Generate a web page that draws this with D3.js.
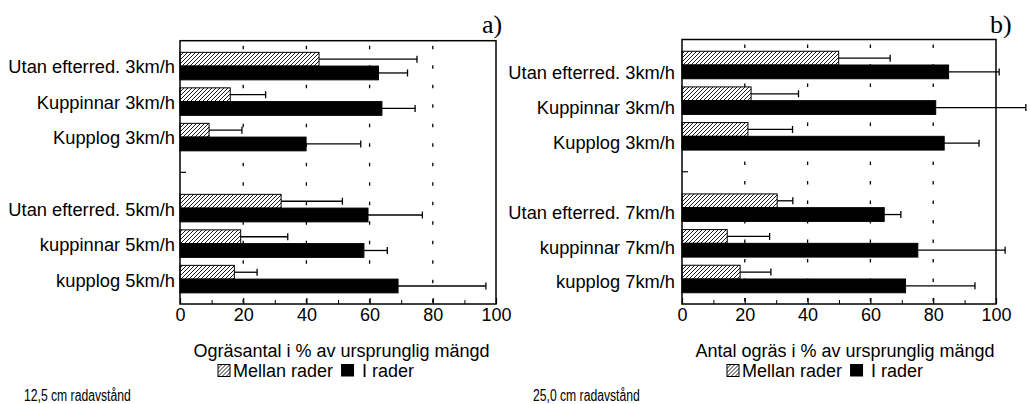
<!DOCTYPE html>
<html>
<head>
<meta charset="utf-8">
<script src="https://cdn.jsdelivr.net/npm/d3@7"></script>
<style>
  body { margin: 0; background: #fff; }
  svg { display: block; }
  text { font-family: "Liberation Sans", Arial, Helvetica, sans-serif; fill: #000; }
</style>
</head>
<body>
<svg id="chart" width="1030" height="404"></svg>
<script>
// Row labels (an empty row separates the two speed groups)
const rowsA = ["Utan efterred. 3km/h", "Kuppinnar 3km/h", "Kupplog 3km/h", "",
               "Utan efterred. 5km/h", "kuppinnar 5km/h", "kupplog 5km/h"];
const rowsB = ["Utan efterred. 3km/h", "Kuppinnar 3km/h", "Kupplog 3km/h", "",
               "Utan efterred. 7km/h", "kuppinnar 7km/h", "kupplog 7km/h"];

// Weed counts, % of original amount, with the length of each error bar
const mellanA    = [44.0, 15.9,  9.2, null, 32.0, 19.2, 17.2];
const mellanErrA = [31.0, 11.2, 10.4, null, 19.4, 14.9,  7.2];
const iRaderA    = [62.8, 63.9, 39.9, null, 59.5, 58.2, 69.0];
const iRaderErrA = [ 9.2, 10.5, 17.3, null, 17.2,  7.4, 27.8];

const mellanB    = [49.9, 22.0, 21.0, null, 30.3, 14.4, 18.5];
const mellanErrB = [16.4, 15.1, 14.2, null,  5.0, 13.5,  9.8];
const iRaderB    = [84.9, 80.8, 83.5, null, 64.4, 75.1, 71.2];
const iRaderErrB = [16.1, 28.7, 11.1, null,  5.3, 27.8, 22.1];

const xTicks     = [0, 20, 40, 60, 80, 100];
const xMinor     = [10, 30, 50, 70, 90];
const gridValues = [20, 40, 60, 80];
const seriesNames = ["Mellan rader", "I rader"];

const titleA = "Ogräsantal i % av ursprunglig mängd";
const titleB = "Antal ogräs i % av ursprunglig mängd";
const noteA = "12,5 cm radavstånd";
const noteB = "25,0 cm radavstånd";
const tagA = "a)";
const tagB = "b)";

const svg = d3.select("#chart");

// Diagonal hatch used for the "Mellan rader" bars
const defs = svg.append("defs");
const pat = defs.append("pattern")
  .attr("id", "hatch")
  .attr("patternUnits", "userSpaceOnUse")
  .attr("width", 4).attr("height", 4);
pat.append("rect").attr("width", 4).attr("height", 4).attr("fill", "#fff");
pat.append("path")
  .attr("d", "M0,4 L4,0 M-1,1 L1,-1 M3,5 L5,3")
  .attr("stroke", "#000").attr("stroke-width", 0.9);

function drawPanel(cfg) {
  const g = svg.append("g");
  const idx = d3.range(cfg.rows.length);

  const x = d3.scaleLinear().domain([0, 100]).range([cfg.left, cfg.right]);
  const y = d3.scalePoint().domain(idx).range([cfg.top, cfg.bottom]).padding(0.708);
  const yLabel = d3.scalePoint().domain(idx).range(cfg.labelRange);
  const sub = d3.scaleBand().domain(seriesNames).range([-13.5, 14]);

  // dotted grid lines
  g.append("g").selectAll("line").data(gridValues).join("line")
    .attr("x1", d => x(d)).attr("x2", d => x(d))
    .attr("y1", cfg.top).attr("y2", cfg.bottom)
    .attr("stroke", "#000").attr("stroke-width", 1.3)
    .attr("stroke-dasharray", "3.5 16").attr("stroke-dashoffset", -5);

  // inward row ticks on the left axis
  g.append("g").selectAll("line").data(idx).join("line")
    .attr("x1", cfg.left).attr("x2", cfg.left + 6)
    .attr("y1", d => y(d)).attr("y2", d => y(d))
    .attr("stroke", "#000").attr("stroke-width", 1.2);

  const series = [
    { name: seriesNames[0], vals: cfg.mellan, errs: cfg.mellanErr, fill: "url(#hatch)" },
    { name: seriesNames[1], vals: cfg.iRader, errs: cfg.iRaderErr, fill: "#000" }
  ];

  series.forEach(s => {
    const rows = idx.filter(i => s.vals[i] != null);
    const bars = g.append("g");
    bars.selectAll("rect").data(rows).join("rect")
      .attr("x", x(0))
      .attr("y", i => y(i) + sub(s.name))
      .attr("width", i => x(s.vals[i]) - x(0))
      .attr("height", sub.bandwidth())
      .attr("fill", s.fill)
      .attr("stroke", "#000").attr("stroke-width", 1);

    const cy = i => y(i) + sub(s.name) + sub.bandwidth() / 2;
    const err = g.append("g").attr("stroke", "#000").attr("stroke-width", 1.3);
    err.selectAll("line.whisker").data(rows).join("line").attr("class", "whisker")
      .attr("x1", i => x(s.vals[i])).attr("x2", i => x(s.vals[i] + s.errs[i]))
      .attr("y1", cy).attr("y2", cy);
    err.selectAll("line.cap").data(rows).join("line").attr("class", "cap")
      .attr("x1", i => x(s.vals[i] + s.errs[i])).attr("x2", i => x(s.vals[i] + s.errs[i]))
      .attr("y1", i => cy(i) - 3.5).attr("y2", i => cy(i) + 3.5);
  });

  // plot frame
  g.append("rect")
    .attr("x", cfg.left).attr("y", cfg.top)
    .attr("width", cfg.right - cfg.left).attr("height", cfg.bottom - cfg.top)
    .attr("fill", "none").attr("stroke", "#000").attr("stroke-width", 1.5);

  // bottom axis: major ticks with labels, minor ticks without
  const axis = g.append("g").attr("transform", `translate(0,${cfg.bottom})`)
    .call(d3.axisBottom(x).tickValues(xTicks).tickSize(-6).tickPadding(4).tickFormat(d3.format("d")));
  axis.select(".domain").remove();
  axis.selectAll("line").attr("stroke-width", 1.2);
  axis.selectAll("text").attr("font-size", 18).attr("dy", "0.71em")
    .style("font-family", '"Liberation Sans", Arial, sans-serif');

  const minor = g.append("g").attr("transform", `translate(0,${cfg.bottom})`)
    .call(d3.axisBottom(x).tickValues(xMinor).tickSize(-4).tickFormat(""));
  minor.select(".domain").remove();

  // row labels
  g.append("g").selectAll("text").data(idx.filter(i => cfg.rows[i] !== "")).join("text")
    .attr("x", cfg.labelX).attr("y", i => yLabel(i)).attr("dy", "0.35em")
    .attr("text-anchor", "end").attr("font-size", 18.3)
    .text(i => cfg.rows[i]);

  // axis title
  g.append("text")
    .attr("x", cfg.titleX).attr("y", 357)
    .attr("text-anchor", "middle").attr("font-size", 18)
    .text(cfg.title);

  // legend
  const lg = g.append("g").attr("transform", `translate(${cfg.legendX},376.5)`);
  lg.append("rect").attr("x", 0).attr("y", -12).attr("width", 12).attr("height", 12)
    .attr("fill", "url(#hatch)").attr("stroke", "#000").attr("stroke-width", 1);
  const t1 = lg.append("text").attr("x", 15).attr("font-size", 18).text(seriesNames[0]);
  const endX = 15 + t1.node().getComputedTextLength() + 8;
  lg.append("rect").attr("x", endX).attr("y", -12.5).attr("width", 13).attr("height", 12.5)
    .attr("fill", "#000");
  lg.append("text").attr("x", endX + 21).attr("font-size", 18).text(seriesNames[1]);

  // footnote (narrow face)
  g.append("text")
    .attr("transform", `translate(${cfg.noteX},401) scale(0.76,1)`)
    .attr("font-size", 16).text(cfg.note);

  // panel tag
  g.append("text").attr("x", cfg.tagX).attr("y", 33)
    .style("font-family", '"Liberation Serif", "Times New Roman", serif')
    .attr("font-size", 26).text(cfg.tag);
}

drawPanel({
  rows: rowsA, mellan: mellanA, mellanErr: mellanErrA, iRader: iRaderA, iRaderErr: iRaderErrA,
  left: 180, right: 496, top: 40.7, bottom: 304,
  labelX: 175, labelRange: [66.5, 280.5],
  titleX: 341.5, title: titleA, legendX: 218,
  note: noteA, noteX: 24, tag: tagA, tagX: 482
});

drawPanel({
  rows: rowsB, mellan: mellanB, mellanErr: mellanErrB, iRader: iRaderB, iRaderErr: iRaderErrB,
  left: 682, right: 996, top: 39.5, bottom: 304,
  labelX: 675, labelRange: [73, 282],
  titleX: 845, title: titleB, legendX: 727,
  note: noteB, noteX: 533, tag: tagB, tagX: 990
});
</script>
</body>
</html>
